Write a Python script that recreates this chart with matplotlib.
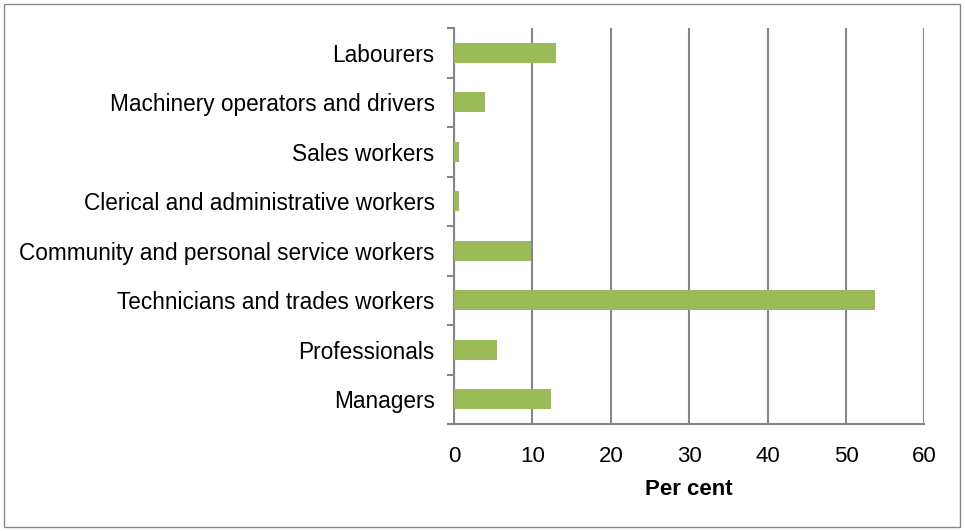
import matplotlib
matplotlib.use("Agg")
import matplotlib.pyplot as plt
from matplotlib.patches import Rectangle
import numpy as np

# occupation categories, bottom to top as drawn
categories = ["Managers", "Professionals", "Technicians and trades workers",
              "Community and personal service workers",
              "Clerical and administrative workers", "Sales workers",
              "Machinery operators and drivers", "Labourers"]
per_cent = [12.4, 5.5, 53.7, 9.8, 0.7, 0.7, 3.9, 13.0]
x_ticks = [0, 10, 20, 30, 40, 50, 60]

plt.rcParams["font.family"] = ["Liberation Sans", "DejaVu Sans"]

fig = plt.figure(figsize=(9.65, 5.31), dpi=100)
ax = fig.add_axes([454 / 965, 1 - 424 / 531, 470.5 / 965, 396 / 531])

y = np.arange(len(categories))
ax.barh(y, per_cent, height=0.4, color="#9BBB59", zorder=3)

ax.set_xlim(0, 60)
ax.set_ylim(-0.5, len(categories) - 0.5)
ax.set_xticks(x_ticks)
ax.set_xticklabels([str(v) for v in x_ticks], fontsize=16)
ax.set_yticks(y)
ax.set_yticklabels(categories, fontsize=16.25)
ax.set_yticks(np.arange(-0.5, len(categories)), minor=True)
ax.tick_params(axis="y", which="major", length=0, pad=14)
ax.tick_params(axis="y", which="minor", length=5, width=1.5, color="#868686")
ax.tick_params(axis="x", length=0, pad=15.5)

ax.grid(axis="x", color="#868686", linewidth=1.5, zorder=0)
ax.spines["top"].set_visible(False)
ax.spines["right"].set_visible(False)
for side in ["left", "bottom"]:
    ax.spines[side].set_color("#868686")
    ax.spines[side].set_linewidth(1.5)

ax.set_xlabel("Per cent", fontsize=16, fontweight="bold", labelpad=9)

# outer frame
fig.patches.append(Rectangle((4 / 965, 4 / 531), 956 / 965, 523 / 531,
                             transform=fig.transFigure, fill=False,
                             edgecolor="#888888", linewidth=1))

fig.savefig("out.png", dpi=100)
